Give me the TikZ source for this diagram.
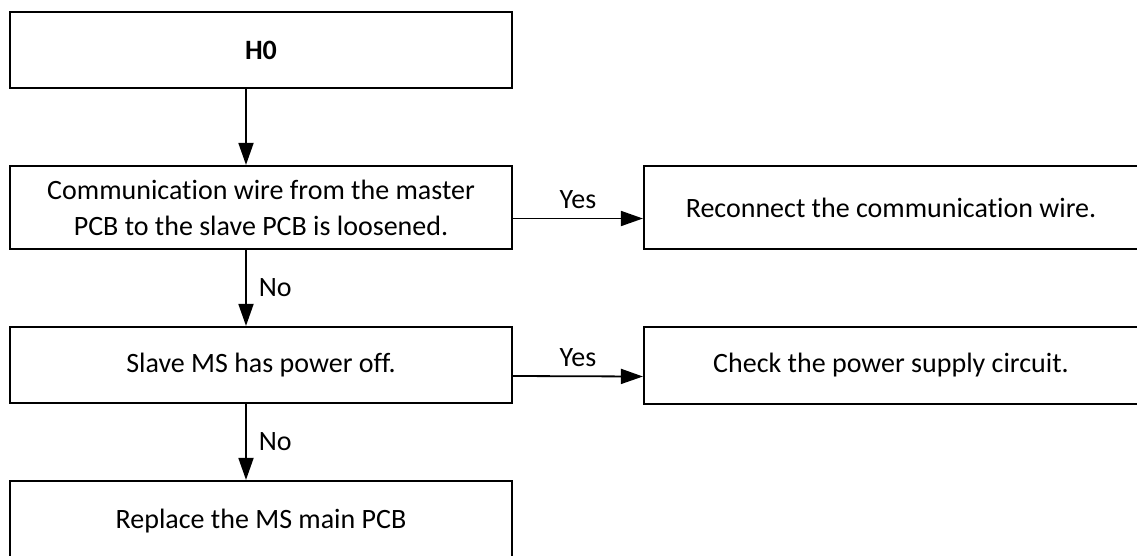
\documentclass[tikz,border=0pt]{standalone}
\usepackage{fontspec}
\setmainfont{Carlito}[Ligatures=NoCommon]
\usetikzlibrary{arrows.meta,positioning}

\tikzset{
  box/.style={rectangle, draw, line width=2.2pt, align=center, inner sep=0pt},
  flow/.style={-{Triangle[length=22pt,width=15pt]}, line width=1.8pt},
  lbl/.style={inner sep=2pt}
}

\begin{document}
\begin{tikzpicture}[x=1pt, y=-1pt, font=\fontsize{28}{36}\selectfont]
    \useasboundingbox (0,0) rectangle (1137,555);
    \clip (0,0) rectangle (1137,555);

    \node[box, minimum width=502pt, minimum height=76pt] (h0) at (261, 50) {\textbf{H0}};
    \node[box, minimum width=502pt, minimum height=83pt] (comm) at (261, 207.5) {Communication wire from the master\\PCB to the slave PCB is loosened.};
    \node[box, minimum width=494pt, minimum height=83pt] (reconn) at (891, 207.5) {Reconnect the communication wire.};
    \node[box, minimum width=502pt, minimum height=76pt] (slave) at (261, 365) {Slave MS has power off.};
    \node[box, minimum width=494pt, minimum height=77pt] (check) at (891, 365.5) {Check the power supply circuit.};
    \node[box, minimum width=502pt, minimum height=80pt] (replace) at (261, 521) {Replace the MS main PCB};

    \draw[flow] ([xshift=-15pt]h0.south) -- ([xshift=-15pt]comm.north);
    \draw[flow] ([xshift=-15pt]comm.south) -- node[lbl, right=10pt] {No} ([xshift=-15pt]slave.north);
    \draw[flow] ([xshift=-15pt]slave.south) -- node[lbl, right=10pt] {No} ([xshift=-15pt]replace.north);
    \draw[flow] ([yshift=-11pt]comm.east) -- node[lbl, above=7pt] {Yes} ([yshift=-11pt]reconn.west);
    \draw[flow] ([yshift=-11pt]slave.east) -- node[lbl, above=7pt] {Yes} ([yshift=-11pt]check.west);
\end{tikzpicture}
\end{document}
